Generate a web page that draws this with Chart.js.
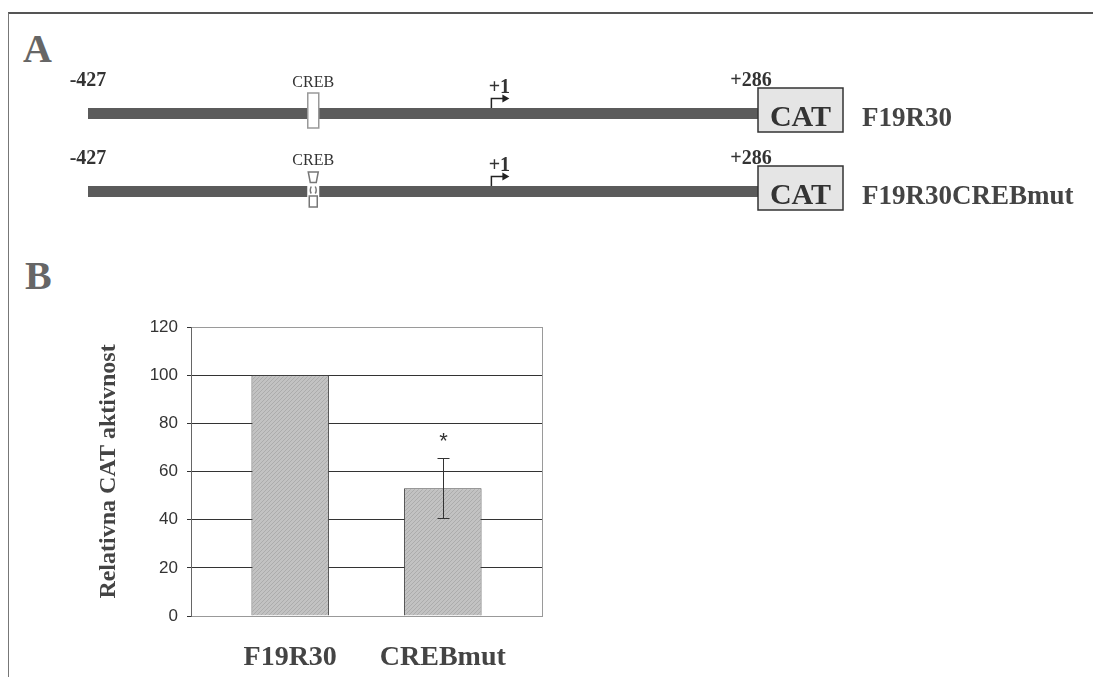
<!DOCTYPE html>
<html lang="sl">
<head>
<meta charset="UTF-8">
<title>Relativna CAT aktivnost</title>
<script src="https://cdn.jsdelivr.net/npm/chart.js"></script>
<style>
  body { margin: 0; background: #fff; }
  .page { position: relative; width: 1093px; height: 677px; overflow: hidden; background: #fff; }
  .frame { position: absolute; left: 8px; top: 12px; right: 0; bottom: 0; border-top: 2px solid #555; border-left: 1px solid #777; }
  .panel-letter { position: absolute; font-family: 'Liberation Serif', serif; font-weight: bold; font-size: 40px; line-height: 1; color: #666; }
  #schemeChart { position: absolute; left: 0; top: 0; }
  #barChart { position: absolute; left: 0; top: 300px; }
</style>
</head>
<body>
<div class="page">
  <div class="frame"></div>
  <div class="panel-letter" style="left:23px; top:29px;">A</div>
  <div class="panel-letter" style="left:25px; top:256px;">B</div>
  <canvas id="schemeChart" width="1093" height="250"></canvas>
  <canvas id="barChart" width="1093" height="377"></canvas>
</div>

<script>
// Panel A: promoter constructs (positions in bp relative to transcription start)
const constructs = ['F19R30', 'F19R30CREBmut'];
const crebMutated = [false, true];
const promoterStart = -427;
const promoterEnd = 286;
const tssPosition = 1;
const crebPosition = -188;

// Panel B: relative CAT activity
const categories = ['F19R30', 'CREBmut'];
const activity = [100, 53];
const activityErr = [0, 12.5];
const significance = ['', '*'];
const yTicks = [0, 20, 40, 60, 80, 100, 120];

const serif = '"Liberation Serif", "Times New Roman", serif';
const sans = '"Liberation Sans", Arial, sans-serif';

// labels, CREB site, start arrow and CAT box drawn on top of the promoter lines
const schemePlugin = {
    id: 'schemeMarks',
    afterDatasetsDraw(chart) {
        const ctx = chart.ctx;
        const xs = chart.scales.x;
        const ys = chart.scales.y;
        const xStart = xs.getPixelForValue(promoterStart);
        const xEnd = xs.getPixelForValue(promoterEnd);
        const xTss = xs.getPixelForValue(tssPosition);
        const xCreb = xs.getPixelForValue(crebPosition);

        constructs.forEach(function(name, i) {
            const y = ys.getPixelForValue(i + 1);
            ctx.save();

            // position labels
            ctx.fillStyle = '#333';
            ctx.textAlign = 'center';
            ctx.textBaseline = 'alphabetic';
            ctx.font = 'bold 20px ' + serif;
            ctx.fillText(String(promoterStart), xStart, y - 28);
            ctx.fillText('+' + promoterEnd, xEnd - 9, y - 28);
            ctx.fillText('+' + tssPosition, xTss + 8, y - 20.5);
            ctx.font = '16px ' + serif;
            ctx.fillText('CREB', xCreb, y - 27);

            // CREB site
            ctx.lineWidth = 1.5;
            ctx.strokeStyle = '#999';
            ctx.fillStyle = '#fff';
            if (!crebMutated[i]) {
                ctx.fillRect(xCreb - 5.5, y - 20.5, 11, 35);
                ctx.strokeRect(xCreb - 5.5, y - 20.5, 11, 35);
            } else {
                ctx.fillRect(xCreb - 6, y - 19.5, 12, 35);
                ctx.strokeStyle = '#777';
                ctx.beginPath();
                ctx.moveTo(xCreb - 5, y - 19.5);
                ctx.lineTo(xCreb + 5, y - 19.5);
                ctx.lineTo(xCreb + 3, y - 9);
                ctx.lineTo(xCreb - 3, y - 9);
                ctx.closePath();
                ctx.stroke();
                ctx.strokeRect(xCreb - 4, y + 4.5, 8, 11);
                ctx.beginPath();
                ctx.moveTo(xCreb - 2, y - 5);
                ctx.quadraticCurveTo(xCreb - 4, y - 1, xCreb - 2, y + 2);
                ctx.moveTo(xCreb + 2, y - 5);
                ctx.quadraticCurveTo(xCreb + 4, y - 1, xCreb + 2, y + 2);
                ctx.stroke();
            }

            // transcription start arrow
            ctx.strokeStyle = '#222';
            ctx.fillStyle = '#222';
            ctx.lineWidth = 1.5;
            ctx.beginPath();
            ctx.moveTo(xTss, y - 5.5);
            ctx.lineTo(xTss, y - 15);
            ctx.lineTo(xTss + 12, y - 15);
            ctx.stroke();
            ctx.beginPath();
            ctx.moveTo(xTss + 11, y - 19);
            ctx.lineTo(xTss + 18, y - 15);
            ctx.lineTo(xTss + 11, y - 11);
            ctx.closePath();
            ctx.fill();

            // CAT reporter box
            const bx = xEnd - 2;
            ctx.fillStyle = '#e5e5e5';
            ctx.fillRect(bx, y - 25.5, 85, 44);
            ctx.strokeStyle = '#333';
            ctx.strokeRect(bx, y - 25.5, 85, 44);
            ctx.fillStyle = '#333';
            ctx.font = 'bold 30px ' + serif;
            ctx.fillText('CAT', bx + 42.5, y + 12.5);

            // construct name
            ctx.textAlign = 'left';
            ctx.fillStyle = '#444';
            ctx.font = 'bold 27px ' + serif;
            ctx.fillText(name, bx + 104, y + 12.5);
            ctx.restore();
        });
    }
};

new Chart(document.getElementById('schemeChart'), {
    type: 'line',
    data: {
        datasets: constructs.map(function(name, i) {
            return {
                label: name,
                data: [{ x: promoterStart, y: i + 1 }, { x: promoterEnd, y: i + 1 }],
                borderColor: '#5b5b5b',
                borderWidth: 11,
                borderCapStyle: 'butt',
                pointRadius: 0,
                clip: false
            };
        })
    },
    options: {
        responsive: false,
        animation: false,
        layout: { padding: { left: 88, right: 333, top: 113.5, bottom: 58.5 } },
        plugins: { legend: { display: false }, tooltip: { enabled: false } },
        scales: {
            x: { type: 'linear', min: promoterStart, max: promoterEnd, display: false },
            y: { type: 'linear', min: 1, max: 2, reverse: true, display: false }
        }
    },
    plugins: [schemePlugin]
});

// fine diagonal texture for the bars, like the scanned original
function barPattern() {
    const c = document.createElement('canvas');
    c.width = 4;
    c.height = 4;
    const p = c.getContext('2d');
    p.fillStyle = '#c2c2c2';
    p.fillRect(0, 0, 4, 4);
    p.fillStyle = '#acacac';
    for (let k = 0; k < 4; k++) p.fillRect(k, 3 - k, 1, 1);
    return p.createPattern(c, 'repeat');
}

// right border of the plot, error bars and significance marks
const barExtras = {
    id: 'barExtras',
    beforeDatasetsDraw(chart) {
        const a = chart.chartArea;
        const ctx = chart.ctx;
        ctx.save();
        ctx.strokeStyle = '#9a9a9a';
        ctx.lineWidth = 1;
        ctx.beginPath();
        ctx.moveTo(Math.round(a.right) + 0.5, a.top);
        ctx.lineTo(Math.round(a.right) + 0.5, a.bottom);
        ctx.stroke();
        ctx.restore();
    },
    afterDatasetsDraw(chart) {
        const ctx = chart.ctx;
        const ys = chart.scales.y;
        const meta = chart.getDatasetMeta(0);
        ctx.save();
        ctx.strokeStyle = '#333';
        ctx.fillStyle = '#333';
        ctx.lineWidth = 1;
        activity.forEach(function(v, i) {
            const x = Math.round(meta.data[i].x) + 0.5;
            const yTop = ys.getPixelForValue(v + activityErr[i]);
            if (activityErr[i] > 0) {
                const yBot = ys.getPixelForValue(v - activityErr[i]);
                ctx.beginPath();
                ctx.moveTo(x, yTop);
                ctx.lineTo(x, yBot);
                ctx.moveTo(x - 6, Math.round(yTop) + 0.5);
                ctx.lineTo(x + 6, Math.round(yTop) + 0.5);
                ctx.moveTo(x - 6, Math.round(yBot) + 0.5);
                ctx.lineTo(x + 6, Math.round(yBot) + 0.5);
                ctx.stroke();
            }
            if (significance[i]) {
                ctx.font = '22px ' + sans;
                ctx.textAlign = 'center';
                ctx.textBaseline = 'alphabetic';
                ctx.fillText(significance[i], x, yTop - 10);
            }
        });
        ctx.restore();
    }
};

new Chart(document.getElementById('barChart'), {
    type: 'bar',
    data: {
        datasets: [{
            label: 'Relativna CAT aktivnost',
            data: activity.map(function(v, i) { return { x: i + 1, y: v }; }),
            backgroundColor: barPattern(),
            borderColor: '#4a4a4a',
            borderWidth: 1,
            barPercentage: 0.508,
            categoryPercentage: 1
        }]
    },
    options: {
        responsive: false,
        animation: false,
        layout: { padding: { left: 90, right: 551, top: 27, bottom: 0 } },
        plugins: { legend: { display: false }, tooltip: { enabled: false } },
        scales: {
            x: {
                type: 'linear',
                min: 0.35,
                max: 2.65,
                offset: false,   // bar charts default to offset, which widens a linear axis
                grid: { display: false, offset: false },
                border: { color: '#999' },
                afterBuildTicks: function(scale) {
                    scale.ticks = categories.map(function(c, i) { return { value: i + 1 }; });
                },
                afterFit: function(scale) { scale.height = 61; },
                ticks: {
                    autoSkip: false,
                    maxRotation: 0,
                    padding: 17,
                    color: '#444',
                    font: { family: serif, size: 28, weight: 'bold' },
                    callback: function(value) { return categories[value - 1]; }
                }
            },
            y: {
                min: 0,
                max: 120,
                afterBuildTicks: function(scale) {
                    scale.ticks = yTicks.map(function(v) { return { value: v }; });
                },
                afterFit: function(scale) { scale.width = 101; },
                grid: {
                    color: function(c) {
                        return (c.tick && (c.tick.value === 0 || c.tick.value === 120)) ? '#9a9a9a' : '#333';
                    },
                    tickColor: '#333',
                    tickLength: 4,
                    lineWidth: 1
                },
                border: { color: '#666' },
                ticks: {
                    padding: 9,
                    color: '#333',
                    font: { family: sans, size: 17 }
                },
                title: {
                    display: true,
                    text: 'Relativna CAT aktivnost',
                    color: '#444',
                    font: { family: serif, size: 24, weight: 'bold' },
                    padding: { top: 4, bottom: 4 }
                }
            }
        }
    },
    plugins: [barExtras]
});
</script>
</body>
</html>
